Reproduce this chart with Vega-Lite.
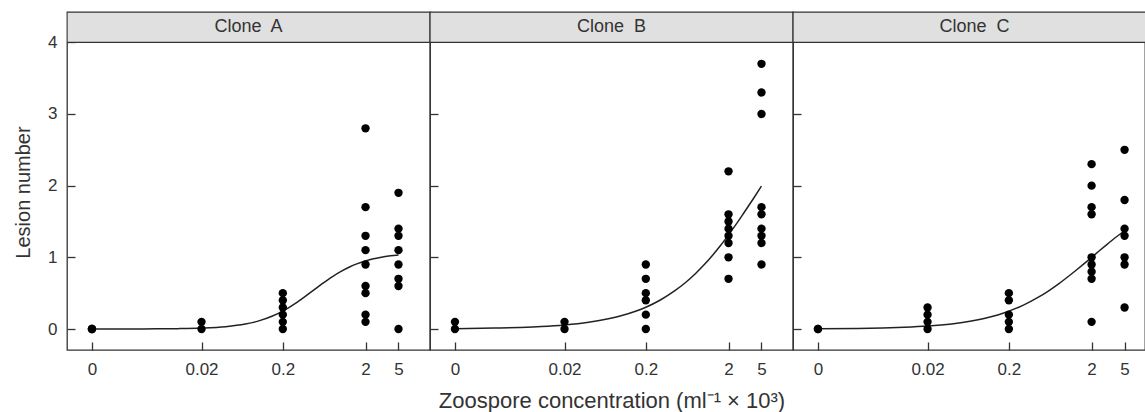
{
  "$schema": "https://vega.github.io/schema/vega-lite/v6.json",
  "padding": {"left": 12, "top": 11, "right": 0, "bottom": 0},
  "background": "white",
  "bounds": "flush",
  "spacing": 0,
  "config": {
    "font": "Liberation Sans",
    "view": {"stroke": "#333333", "strokeWidth": 1.3},
    "axis": {
      "domain": false, "grid": false, "tickSize": 8, "offset": -8, "tickColor": "#333333", "tickWidth": 1.3,
      "labelColor": "#333333", "labelFontSize": 17, "labelFont": "Liberation Sans",
      "titleFontSize": 20, "titleFontWeight": "normal", "titleColor": "#333333", "titleFont": "Liberation Sans"
    }
  },
  "datasets": {
    "points": [
      {"clone": "Clone A", "conc": 0, "lesions": 0},
      {"clone": "Clone A", "conc": 0, "lesions": 0},
      {"clone": "Clone A", "conc": 0, "lesions": 0},
      {"clone": "Clone A", "conc": 0.02, "lesions": 0.1},
      {"clone": "Clone A", "conc": 0.02, "lesions": 0},
      {"clone": "Clone A", "conc": 0.2, "lesions": 0.5},
      {"clone": "Clone A", "conc": 0.2, "lesions": 0.4},
      {"clone": "Clone A", "conc": 0.2, "lesions": 0.3},
      {"clone": "Clone A", "conc": 0.2, "lesions": 0.2},
      {"clone": "Clone A", "conc": 0.2, "lesions": 0.1},
      {"clone": "Clone A", "conc": 0.2, "lesions": 0},
      {"clone": "Clone A", "conc": 2, "lesions": 2.8},
      {"clone": "Clone A", "conc": 2, "lesions": 1.7},
      {"clone": "Clone A", "conc": 2, "lesions": 1.3},
      {"clone": "Clone A", "conc": 2, "lesions": 1.1},
      {"clone": "Clone A", "conc": 2, "lesions": 0.9},
      {"clone": "Clone A", "conc": 2, "lesions": 0.6},
      {"clone": "Clone A", "conc": 2, "lesions": 0.5},
      {"clone": "Clone A", "conc": 2, "lesions": 0.2},
      {"clone": "Clone A", "conc": 2, "lesions": 0.1},
      {"clone": "Clone A", "conc": 5, "lesions": 1.9},
      {"clone": "Clone A", "conc": 5, "lesions": 1.4},
      {"clone": "Clone A", "conc": 5, "lesions": 1.3},
      {"clone": "Clone A", "conc": 5, "lesions": 1.1},
      {"clone": "Clone A", "conc": 5, "lesions": 0.9},
      {"clone": "Clone A", "conc": 5, "lesions": 0.7},
      {"clone": "Clone A", "conc": 5, "lesions": 0.6},
      {"clone": "Clone A", "conc": 5, "lesions": 0},
      {"clone": "Clone B", "conc": 0, "lesions": 0.1},
      {"clone": "Clone B", "conc": 0, "lesions": 0},
      {"clone": "Clone B", "conc": 0.02, "lesions": 0.1},
      {"clone": "Clone B", "conc": 0.02, "lesions": 0},
      {"clone": "Clone B", "conc": 0.2, "lesions": 0.9},
      {"clone": "Clone B", "conc": 0.2, "lesions": 0.7},
      {"clone": "Clone B", "conc": 0.2, "lesions": 0.5},
      {"clone": "Clone B", "conc": 0.2, "lesions": 0.4},
      {"clone": "Clone B", "conc": 0.2, "lesions": 0.2},
      {"clone": "Clone B", "conc": 0.2, "lesions": 0},
      {"clone": "Clone B", "conc": 2, "lesions": 2.2},
      {"clone": "Clone B", "conc": 2, "lesions": 1.6},
      {"clone": "Clone B", "conc": 2, "lesions": 1.5},
      {"clone": "Clone B", "conc": 2, "lesions": 1.4},
      {"clone": "Clone B", "conc": 2, "lesions": 1.3},
      {"clone": "Clone B", "conc": 2, "lesions": 1.2},
      {"clone": "Clone B", "conc": 2, "lesions": 1.0},
      {"clone": "Clone B", "conc": 2, "lesions": 0.7},
      {"clone": "Clone B", "conc": 5, "lesions": 3.7},
      {"clone": "Clone B", "conc": 5, "lesions": 3.3},
      {"clone": "Clone B", "conc": 5, "lesions": 3.0},
      {"clone": "Clone B", "conc": 5, "lesions": 1.7},
      {"clone": "Clone B", "conc": 5, "lesions": 1.6},
      {"clone": "Clone B", "conc": 5, "lesions": 1.4},
      {"clone": "Clone B", "conc": 5, "lesions": 1.3},
      {"clone": "Clone B", "conc": 5, "lesions": 1.2},
      {"clone": "Clone B", "conc": 5, "lesions": 0.9},
      {"clone": "Clone C", "conc": 0, "lesions": 0},
      {"clone": "Clone C", "conc": 0, "lesions": 0},
      {"clone": "Clone C", "conc": 0.02, "lesions": 0.3},
      {"clone": "Clone C", "conc": 0.02, "lesions": 0.2},
      {"clone": "Clone C", "conc": 0.02, "lesions": 0.1},
      {"clone": "Clone C", "conc": 0.02, "lesions": 0},
      {"clone": "Clone C", "conc": 0.2, "lesions": 0.5},
      {"clone": "Clone C", "conc": 0.2, "lesions": 0.4},
      {"clone": "Clone C", "conc": 0.2, "lesions": 0.2},
      {"clone": "Clone C", "conc": 0.2, "lesions": 0.1},
      {"clone": "Clone C", "conc": 0.2, "lesions": 0},
      {"clone": "Clone C", "conc": 2, "lesions": 2.3},
      {"clone": "Clone C", "conc": 2, "lesions": 2.0},
      {"clone": "Clone C", "conc": 2, "lesions": 1.7},
      {"clone": "Clone C", "conc": 2, "lesions": 1.6},
      {"clone": "Clone C", "conc": 2, "lesions": 1.0},
      {"clone": "Clone C", "conc": 2, "lesions": 0.9},
      {"clone": "Clone C", "conc": 2, "lesions": 0.8},
      {"clone": "Clone C", "conc": 2, "lesions": 0.7},
      {"clone": "Clone C", "conc": 2, "lesions": 0.1},
      {"clone": "Clone C", "conc": 5, "lesions": 2.5},
      {"clone": "Clone C", "conc": 5, "lesions": 1.8},
      {"clone": "Clone C", "conc": 5, "lesions": 1.4},
      {"clone": "Clone C", "conc": 5, "lesions": 1.3},
      {"clone": "Clone C", "conc": 5, "lesions": 1.0},
      {"clone": "Clone C", "conc": 5, "lesions": 0.9},
      {"clone": "Clone C", "conc": 5, "lesions": 0.3}
    ],
    "curves": [
      {"clone": "Clone A", "conc": 0, "lesions": 0.000},
      {"clone": "Clone A", "conc": 0.002, "lesions": 0.001},
      {"clone": "Clone A", "conc": 0.005, "lesions": 0.002},
      {"clone": "Clone A", "conc": 0.01, "lesions": 0.005},
      {"clone": "Clone A", "conc": 0.02, "lesions": 0.013},
      {"clone": "Clone A", "conc": 0.04, "lesions": 0.033},
      {"clone": "Clone A", "conc": 0.07, "lesions": 0.070},
      {"clone": "Clone A", "conc": 0.1, "lesions": 0.110},
      {"clone": "Clone A", "conc": 0.15, "lesions": 0.181},
      {"clone": "Clone A", "conc": 0.2, "lesions": 0.250},
      {"clone": "Clone A", "conc": 0.3, "lesions": 0.375},
      {"clone": "Clone A", "conc": 0.45, "lesions": 0.524},
      {"clone": "Clone A", "conc": 0.6, "lesions": 0.632},
      {"clone": "Clone A", "conc": 0.8, "lesions": 0.732},
      {"clone": "Clone A", "conc": 1, "lesions": 0.800},
      {"clone": "Clone A", "conc": 1.3, "lesions": 0.869},
      {"clone": "Clone A", "conc": 1.6, "lesions": 0.912},
      {"clone": "Clone A", "conc": 2, "lesions": 0.950},
      {"clone": "Clone A", "conc": 2.5, "lesions": 0.980},
      {"clone": "Clone A", "conc": 3, "lesions": 0.999},
      {"clone": "Clone A", "conc": 4, "lesions": 1.022},
      {"clone": "Clone A", "conc": 5, "lesions": 1.034},
      {"clone": "Clone B", "conc": 0, "lesions": 0.005},
      {"clone": "Clone B", "conc": 0.002, "lesions": 0.013},
      {"clone": "Clone B", "conc": 0.005, "lesions": 0.022},
      {"clone": "Clone B", "conc": 0.01, "lesions": 0.034},
      {"clone": "Clone B", "conc": 0.02, "lesions": 0.056},
      {"clone": "Clone B", "conc": 0.04, "lesions": 0.094},
      {"clone": "Clone B", "conc": 0.07, "lesions": 0.142},
      {"clone": "Clone B", "conc": 0.1, "lesions": 0.184},
      {"clone": "Clone B", "conc": 0.15, "lesions": 0.248},
      {"clone": "Clone B", "conc": 0.2, "lesions": 0.304},
      {"clone": "Clone B", "conc": 0.3, "lesions": 0.405},
      {"clone": "Clone B", "conc": 0.45, "lesions": 0.534},
      {"clone": "Clone B", "conc": 0.6, "lesions": 0.645},
      {"clone": "Clone B", "conc": 0.8, "lesions": 0.775},
      {"clone": "Clone B", "conc": 1, "lesions": 0.889},
      {"clone": "Clone B", "conc": 1.3, "lesions": 1.037},
      {"clone": "Clone B", "conc": 1.6, "lesions": 1.165},
      {"clone": "Clone B", "conc": 2, "lesions": 1.314},
      {"clone": "Clone B", "conc": 2.5, "lesions": 1.470},
      {"clone": "Clone B", "conc": 3, "lesions": 1.604},
      {"clone": "Clone B", "conc": 4, "lesions": 1.821},
      {"clone": "Clone B", "conc": 5, "lesions": 1.994},
      {"clone": "Clone C", "conc": 0, "lesions": 0.003},
      {"clone": "Clone C", "conc": 0.002, "lesions": 0.008},
      {"clone": "Clone C", "conc": 0.005, "lesions": 0.014},
      {"clone": "Clone C", "conc": 0.01, "lesions": 0.024},
      {"clone": "Clone C", "conc": 0.02, "lesions": 0.041},
      {"clone": "Clone C", "conc": 0.04, "lesions": 0.071},
      {"clone": "Clone C", "conc": 0.07, "lesions": 0.111},
      {"clone": "Clone C", "conc": 0.1, "lesions": 0.147},
      {"clone": "Clone C", "conc": 0.15, "lesions": 0.200},
      {"clone": "Clone C", "conc": 0.2, "lesions": 0.249},
      {"clone": "Clone C", "conc": 0.3, "lesions": 0.333},
      {"clone": "Clone C", "conc": 0.45, "lesions": 0.440},
      {"clone": "Clone C", "conc": 0.6, "lesions": 0.530},
      {"clone": "Clone C", "conc": 0.8, "lesions": 0.630},
      {"clone": "Clone C", "conc": 1, "lesions": 0.715},
      {"clone": "Clone C", "conc": 1.3, "lesions": 0.820},
      {"clone": "Clone C", "conc": 1.6, "lesions": 0.906},
      {"clone": "Clone C", "conc": 2, "lesions": 1.000},
      {"clone": "Clone C", "conc": 2.5, "lesions": 1.095},
      {"clone": "Clone C", "conc": 3, "lesions": 1.171},
      {"clone": "Clone C", "conc": 4, "lesions": 1.287},
      {"clone": "Clone C", "conc": 5, "lesions": 1.371}
    ],
    "strips": [
      {"clone": "Clone A", "label": "Clone\u00a0 A"},
      {"clone": "Clone B", "label": "Clone\u00a0 B"},
      {"clone": "Clone C", "label": "Clone\u00a0 C"}
    ]
  },
  "hconcat": [
    {
      "width": 363, "height": 338,
      "layer": [
        {"data": {"name": "curves"}, "transform": [{"filter": "datum.clone == 'Clone A'"}],
         "mark": {"type": "line", "color": "#222222", "strokeWidth": 1.5, "interpolate": "monotone"},
         "encoding": {
           "x": {"field": "conc", "type": "quantitative", "scale": {"type": "symlog", "constant": 0.001, "domain": [-0.001, 12], "nice": false, "zero": false},
             "axis": {"values": [0, 0.02, 0.2, 2, 5], "labelExpr": "toString(datum.value)", "labelPadding": 11, "title": null}},
           "y": {"field": "lesions", "type": "quantitative", "scale": {"domain": [-0.293, 4.423], "nice": false, "zero": false},
             "axis": {"values": [0, 1, 2, 3, 4], "labelPadding": 10, "title": "Lesion number", "titlePadding": 14, "titleY": 180}}}},
        {"data": {"name": "points"}, "transform": [{"filter": "datum.clone == 'Clone A'"}],
         "mark": {"type": "circle", "size": 70, "color": "#000000", "opacity": 1},
         "encoding": {
           "x": {"field": "conc", "type": "quantitative",
             "axis": {"values": [0, 0.02, 0.2, 2, 5], "labelExpr": "toString(datum.value)", "labelPadding": 11, "title": null}},
           "y": {"field": "lesions", "type": "quantitative",
             "axis": {"values": [0, 1, 2, 3, 4], "labelPadding": 10, "title": "Lesion number", "titlePadding": 14, "titleY": 180}}}},
        {"data": {"name": "strips"}, "transform": [{"filter": "datum.clone == 'Clone A'"}],
         "mark": {"type": "rect", "fill": "#e0e0e0", "stroke": "#333333", "strokeWidth": 1.3, "clip": true},
         "encoding": {
           "x": {"datum": -0.001, "type": "quantitative",
             "axis": {"values": [0, 0.02, 0.2, 2, 5], "labelExpr": "toString(datum.value)", "labelPadding": 11, "title": null}},
           "x2": {"datum": 12},
           "y": {"datum": 4, "type": "quantitative",
             "axis": {"values": [0, 1, 2, 3, 4], "labelPadding": 10, "title": "Lesion number", "titlePadding": 14, "titleY": 180}},
           "y2": {"datum": 4.423}}},
        {"data": {"name": "strips"}, "transform": [{"filter": "datum.clone == 'Clone A'"}],
         "mark": {"type": "text", "fontSize": 18, "color": "#333333", "baseline": "middle", "align": "center"},
         "encoding": {
           "x": {"datum": 0.0765, "type": "quantitative",
             "axis": {"values": [0, 0.02, 0.2, 2, 5], "labelExpr": "toString(datum.value)", "labelPadding": 11, "title": null}},
           "y": {"datum": 4.21, "type": "quantitative",
             "axis": {"values": [0, 1, 2, 3, 4], "labelPadding": 10, "title": "Lesion number", "titlePadding": 14, "titleY": 180}},
           "text": {"field": "label"}}}
      ]
    },
    {
      "width": 363, "height": 338,
      "layer": [
        {"data": {"name": "curves"}, "transform": [{"filter": "datum.clone == 'Clone B'"}],
         "mark": {"type": "line", "color": "#222222", "strokeWidth": 1.5, "interpolate": "monotone"},
         "encoding": {
           "x": {"field": "conc", "type": "quantitative", "scale": {"type": "symlog", "constant": 0.001, "domain": [-0.001, 12], "nice": false, "zero": false},
             "axis": {"values": [0, 0.02, 0.2, 2, 5], "labelExpr": "toString(datum.value)", "labelPadding": 11, "title": "Zoospore concentration (ml\u207b\u00b9 \u00d7 10\u00b3)", "titlePadding": 13, "titleFontSize": 22}},
           "y": {"field": "lesions", "type": "quantitative", "scale": {"domain": [-0.293, 4.423], "nice": false, "zero": false},
             "axis": {"values": [0, 1, 2, 3], "labels": false, "title": null}}}},
        {"data": {"name": "points"}, "transform": [{"filter": "datum.clone == 'Clone B'"}],
         "mark": {"type": "circle", "size": 70, "color": "#000000", "opacity": 1},
         "encoding": {
           "x": {"field": "conc", "type": "quantitative",
             "axis": {"values": [0, 0.02, 0.2, 2, 5], "labelExpr": "toString(datum.value)", "labelPadding": 11, "title": "Zoospore concentration (ml\u207b\u00b9 \u00d7 10\u00b3)", "titlePadding": 13, "titleFontSize": 22}},
           "y": {"field": "lesions", "type": "quantitative",
             "axis": {"values": [0, 1, 2, 3], "labels": false, "title": null}}}},
        {"data": {"name": "strips"}, "transform": [{"filter": "datum.clone == 'Clone B'"}],
         "mark": {"type": "rect", "fill": "#e0e0e0", "stroke": "#333333", "strokeWidth": 1.3, "clip": true},
         "encoding": {
           "x": {"datum": -0.001, "type": "quantitative",
             "axis": {"values": [0, 0.02, 0.2, 2, 5], "labelExpr": "toString(datum.value)", "labelPadding": 11, "title": "Zoospore concentration (ml\u207b\u00b9 \u00d7 10\u00b3)", "titlePadding": 13, "titleFontSize": 22}},
           "x2": {"datum": 12},
           "y": {"datum": 4, "type": "quantitative",
             "axis": {"values": [0, 1, 2, 3], "labels": false, "title": null}},
           "y2": {"datum": 4.423}}},
        {"data": {"name": "strips"}, "transform": [{"filter": "datum.clone == 'Clone B'"}],
         "mark": {"type": "text", "fontSize": 18, "color": "#333333", "baseline": "middle", "align": "center"},
         "encoding": {
           "x": {"datum": 0.0765, "type": "quantitative",
             "axis": {"values": [0, 0.02, 0.2, 2, 5], "labelExpr": "toString(datum.value)", "labelPadding": 11, "title": "Zoospore concentration (ml\u207b\u00b9 \u00d7 10\u00b3)", "titlePadding": 13, "titleFontSize": 22}},
           "y": {"datum": 4.21, "type": "quantitative",
             "axis": {"values": [0, 1, 2, 3], "labels": false, "title": null}},
           "text": {"field": "label"}}}
      ]
    },
    {
      "width": 352, "height": 338,
      "layer": [
        {"data": {"name": "curves"}, "transform": [{"filter": "datum.clone == 'Clone C'"}],
         "mark": {"type": "line", "color": "#222222", "strokeWidth": 1.5, "interpolate": "monotone"},
         "encoding": {
           "x": {"field": "conc", "type": "quantitative", "scale": {"type": "symlog", "constant": 0.001, "domain": [-0.001, 8.82], "nice": false, "zero": false},
             "axis": {"values": [0, 0.02, 0.2, 2, 5], "labelExpr": "toString(datum.value)", "labelPadding": 11, "title": null}},
           "y": {"field": "lesions", "type": "quantitative", "scale": {"domain": [-0.293, 4.423], "nice": false, "zero": false},
             "axis": {"values": [0, 1, 2, 3], "labels": false, "title": null}}}},
        {"data": {"name": "points"}, "transform": [{"filter": "datum.clone == 'Clone C'"}],
         "mark": {"type": "circle", "size": 70, "color": "#000000", "opacity": 1},
         "encoding": {
           "x": {"field": "conc", "type": "quantitative",
             "axis": {"values": [0, 0.02, 0.2, 2, 5], "labelExpr": "toString(datum.value)", "labelPadding": 11, "title": null}},
           "y": {"field": "lesions", "type": "quantitative",
             "axis": {"values": [0, 1, 2, 3], "labels": false, "title": null}}}},
        {"data": {"name": "strips"}, "transform": [{"filter": "datum.clone == 'Clone C'"}],
         "mark": {"type": "rect", "fill": "#e0e0e0", "stroke": "#333333", "strokeWidth": 1.3, "clip": true},
         "encoding": {
           "x": {"datum": -0.001, "type": "quantitative",
             "axis": {"values": [0, 0.02, 0.2, 2, 5], "labelExpr": "toString(datum.value)", "labelPadding": 11, "title": null}},
           "x2": {"datum": 12},
           "y": {"datum": 4, "type": "quantitative",
             "axis": {"values": [0, 1, 2, 3], "labels": false, "title": null}},
           "y2": {"datum": 4.423}}},
        {"data": {"name": "strips"}, "transform": [{"filter": "datum.clone == 'Clone C'"}],
         "mark": {"type": "text", "fontSize": 18, "color": "#333333", "baseline": "middle", "align": "center"},
         "encoding": {
           "x": {"datum": 0.0765, "type": "quantitative",
             "axis": {"values": [0, 0.02, 0.2, 2, 5], "labelExpr": "toString(datum.value)", "labelPadding": 11, "title": null}},
           "y": {"datum": 4.21, "type": "quantitative",
             "axis": {"values": [0, 1, 2, 3], "labels": false, "title": null}},
           "text": {"field": "label"}}}
      ]
    }
  ]
}
